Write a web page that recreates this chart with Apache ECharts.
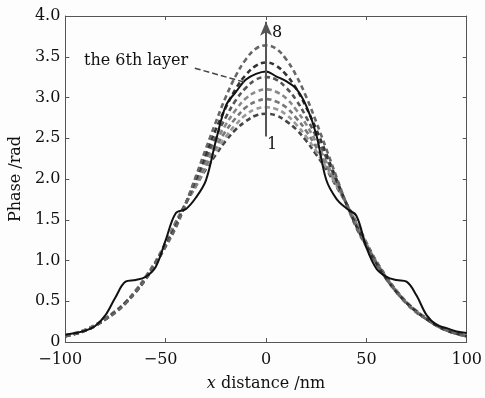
<!DOCTYPE html>
<html>
<head>
<meta charset="utf-8">
<script src="https://cdn.jsdelivr.net/npm/echarts@6/dist/echarts.min.js"></script>
<style>
  html, body { margin: 0; padding: 0; background: #fdfdfd; }
  #main { width: 485px; height: 398px; }
</style>
</head>
<body>
<div id="main"></div>
<script>
// x positions (nm)
const xData = [-100, -95, -90, -85, -80, -75, -70, -65, -60, -55, -50, -45, -40, -35, -30, -25, -20, -15, -10, -5, 0,
    5, 10, 15, 20, 25, 30, 35, 40, 45, 50, 55, 60, 65, 70, 75, 80, 85, 90, 95, 100];

// dashed layers 1..8 (layer 6 is the solid one)
const layer1 = [0.08, 0.11, 0.15, 0.21, 0.29, 0.38, 0.49, 0.63, 0.80, 0.99, 1.22, 1.47, 1.70, 1.91, 2.12, 2.30, 2.47, 2.61, 2.71, 2.78, 2.80,
    2.78, 2.71, 2.61, 2.47, 2.30, 2.12, 1.91, 1.70, 1.47, 1.22, 0.99, 0.80, 0.63, 0.49, 0.38, 0.29, 0.21, 0.15, 0.11, 0.08];
const layer2 = [0.08, 0.11, 0.15, 0.21, 0.29, 0.38, 0.49, 0.63, 0.79, 0.98, 1.21, 1.46, 1.70, 1.92, 2.14, 2.34, 2.52, 2.67, 2.79, 2.86, 2.88,
    2.86, 2.79, 2.67, 2.52, 2.34, 2.14, 1.92, 1.70, 1.46, 1.21, 0.98, 0.79, 0.63, 0.49, 0.38, 0.29, 0.21, 0.15, 0.11, 0.08];
const layer3 = [0.07, 0.10, 0.15, 0.21, 0.28, 0.37, 0.48, 0.62, 0.79, 0.98, 1.20, 1.45, 1.70, 1.94, 2.17, 2.39, 2.59, 2.75, 2.88, 2.95, 2.98,
    2.95, 2.88, 2.75, 2.59, 2.39, 2.17, 1.94, 1.70, 1.45, 1.20, 0.98, 0.79, 0.62, 0.48, 0.37, 0.28, 0.21, 0.15, 0.10, 0.07];
const layer4 = [0.07, 0.10, 0.15, 0.21, 0.28, 0.37, 0.48, 0.62, 0.78, 0.97, 1.20, 1.44, 1.70, 1.96, 2.21, 2.45, 2.67, 2.85, 2.99, 3.07, 3.10,
    3.07, 2.99, 2.85, 2.67, 2.45, 2.21, 1.96, 1.70, 1.44, 1.20, 0.97, 0.78, 0.62, 0.48, 0.37, 0.28, 0.21, 0.15, 0.10, 0.07];
const layer5 = [0.07, 0.10, 0.14, 0.20, 0.28, 0.37, 0.48, 0.62, 0.78, 0.97, 1.19, 1.43, 1.70, 1.98, 2.26, 2.52, 2.76, 2.97, 3.12, 3.22, 3.25,
    3.22, 3.12, 2.97, 2.76, 2.52, 2.26, 1.98, 1.70, 1.43, 1.19, 0.97, 0.78, 0.62, 0.48, 0.37, 0.28, 0.20, 0.14, 0.10, 0.07];
const layer6 = [0.09, 0.11, 0.14, 0.20, 0.33, 0.55, 0.74, 0.76, 0.80, 0.92, 1.25, 1.58, 1.63, 1.77, 1.98, 2.47, 2.90, 3.07, 3.22, 3.29, 3.32,
    3.26, 3.20, 3.11, 2.90, 2.55, 1.99, 1.76, 1.64, 1.55, 1.16, 0.90, 0.80, 0.76, 0.74, 0.57, 0.33, 0.21, 0.17, 0.13, 0.11];
const layer7 = [0.07, 0.10, 0.14, 0.20, 0.28, 0.37, 0.48, 0.61, 0.77, 0.96, 1.18, 1.42, 1.70, 2.00, 2.31, 2.61, 2.88, 3.11, 3.28, 3.39, 3.43,
    3.39, 3.28, 3.11, 2.88, 2.61, 2.31, 2.00, 1.70, 1.42, 1.18, 0.96, 0.77, 0.61, 0.48, 0.37, 0.28, 0.20, 0.14, 0.10, 0.07];
const layer8 = [0.07, 0.10, 0.14, 0.20, 0.28, 0.36, 0.47, 0.61, 0.77, 0.96, 1.17, 1.40, 1.70, 2.03, 2.37, 2.70, 3.01, 3.27, 3.47, 3.60, 3.64,
    3.60, 3.47, 3.27, 3.01, 2.70, 2.37, 2.03, 1.70, 1.40, 1.17, 0.96, 0.77, 0.61, 0.47, 0.36, 0.28, 0.20, 0.14, 0.10, 0.07];

const xTickLabels = ['\u2212100', '\u221250', '0', '50', '100'];
const xTickValues = [-100, -50, 0, 50, 100];
const yTickLabels = ['0', '0.5', '1.0', '1.5', '2.0', '2.5', '3.0', '3.5', '4.0'];
const yTickValues = [0, 0.5, 1, 1.5, 2, 2.5, 3, 3.5, 4];

const chart = echarts.init(document.getElementById('main'));
const FONT = 'DejaVu Serif';
const AXIS_COLOR = '#555';

function pairs(arr) {
    return xData.map(function (x, i) { return [x, arr[i]]; });
}

function dashed(name, arr, color) {
    return {
        name: name,
        type: 'line',
        data: pairs(arr),
        smooth: 0.4,
        symbol: 'none',
        silent: true,
        lineStyle: { color: color, width: 2.6, type: [5, 3.5] }
    };
}

const tickStyle = { show: true, inside: true, length: 4, lineStyle: { color: AXIS_COLOR } };

const option = {
    backgroundColor: '#fdfdfd',
    animation: false,
    grid: { left: 62, right: 18, top: 16, bottom: 56 },
    xAxis: [{
        type: 'value',
        min: -100, max: 100, interval: 50,
        position: 'bottom',
        axisLine: { show: true, onZero: false, lineStyle: { color: AXIS_COLOR } },
        axisTick: tickStyle,
        splitLine: { show: false },
        axisLabel: {
            margin: 10,
            // negative labels get a trailing figure space so the digits sit on the tick
            formatter: function (v) {
                const s = xTickLabels[xTickValues.indexOf(v)];
                return v < 0 ? s + '\u2007' : s;
            },
            fontFamily: FONT, fontSize: 16, color: '#111'
        },
        name: '{it|x} distance /nm',
        nameLocation: 'middle',
        nameGap: 34,
        nameTextStyle: {
            fontFamily: FONT, fontSize: 16, color: '#111',
            rich: { it: { fontFamily: FONT, fontSize: 16, fontStyle: 'italic', color: '#111' } }
        }
    }, {
        type: 'value',
        min: -100, max: 100, interval: 50,
        position: 'top',
        axisLine: { show: true, onZero: false, lineStyle: { color: AXIS_COLOR } },
        axisTick: tickStyle,
        axisLabel: { show: false },
        splitLine: { show: false }
    }],
    yAxis: [{
        type: 'value',
        min: 0, max: 4, interval: 0.5,
        position: 'left',
        axisLine: { show: true, onZero: false, lineStyle: { color: AXIS_COLOR } },
        axisTick: tickStyle,
        splitLine: { show: false },
        axisLabel: {
            margin: 5,
            formatter: function (v) { return yTickLabels[yTickValues.indexOf(v)]; },
            fontFamily: FONT, fontSize: 16, color: '#111'
        },
        name: 'Phase /rad',
        nameLocation: 'middle',
        nameGap: 40,
        nameTextStyle: { fontFamily: FONT, fontSize: 16, color: '#111' }
    }, {
        type: 'value',
        min: 0, max: 4, interval: 0.5,
        position: 'right',
        axisLine: { show: true, onZero: false, lineStyle: { color: AXIS_COLOR } },
        axisTick: tickStyle,
        axisLabel: { show: false },
        splitLine: { show: false }
    }],
    series: [
        dashed('1', layer1, '#444'),
        dashed('2', layer2, '#999'),
        dashed('3', layer3, '#777'),
        dashed('4', layer4, '#888'),
        dashed('5', layer5, '#555'),
        dashed('7', layer7, '#333'),
        dashed('8', layer8, '#666'),
        {
            name: '6',
            type: 'line',
            data: pairs(layer6),
            smooth: 0.35,
            symbol: 'none',
            silent: true,
            lineStyle: { color: '#111', width: 2 },
            markLine: {
                silent: true,
                animation: false,
                label: { show: false },
                data: [
                    // 1 -> 8 arrow
                    [{ coord: [0, 2.52], symbol: 'none', lineStyle: { color: '#555', width: 2, type: 'solid' } },
                     { coord: [0, 3.93], symbol: 'arrow', symbolSize: [9, 14] }],
                    // leader line to the 6th layer
                    [{ coord: [-35.5, 3.36], symbol: 'none', lineStyle: { color: '#444', width: 1.5, type: [6, 3] } },
                     { coord: [-11, 3.19], symbol: 'none' }]
                ]
            }
        }
    ],
    graphic: [
        { type: 'text', left: 84, top: 53, style: { text: 'the 6th layer', font: '16px "DejaVu Serif"', fill: '#111' } },
        { type: 'text', left: 272, top: 25, style: { text: '8', font: '16px "DejaVu Serif"', fill: '#111' } },
        { type: 'text', left: 267, top: 137, style: { text: '1', font: '16px "DejaVu Serif"', fill: '#111' } }
    ]
};

chart.setOption(option);
</script>
</body>
</html>
